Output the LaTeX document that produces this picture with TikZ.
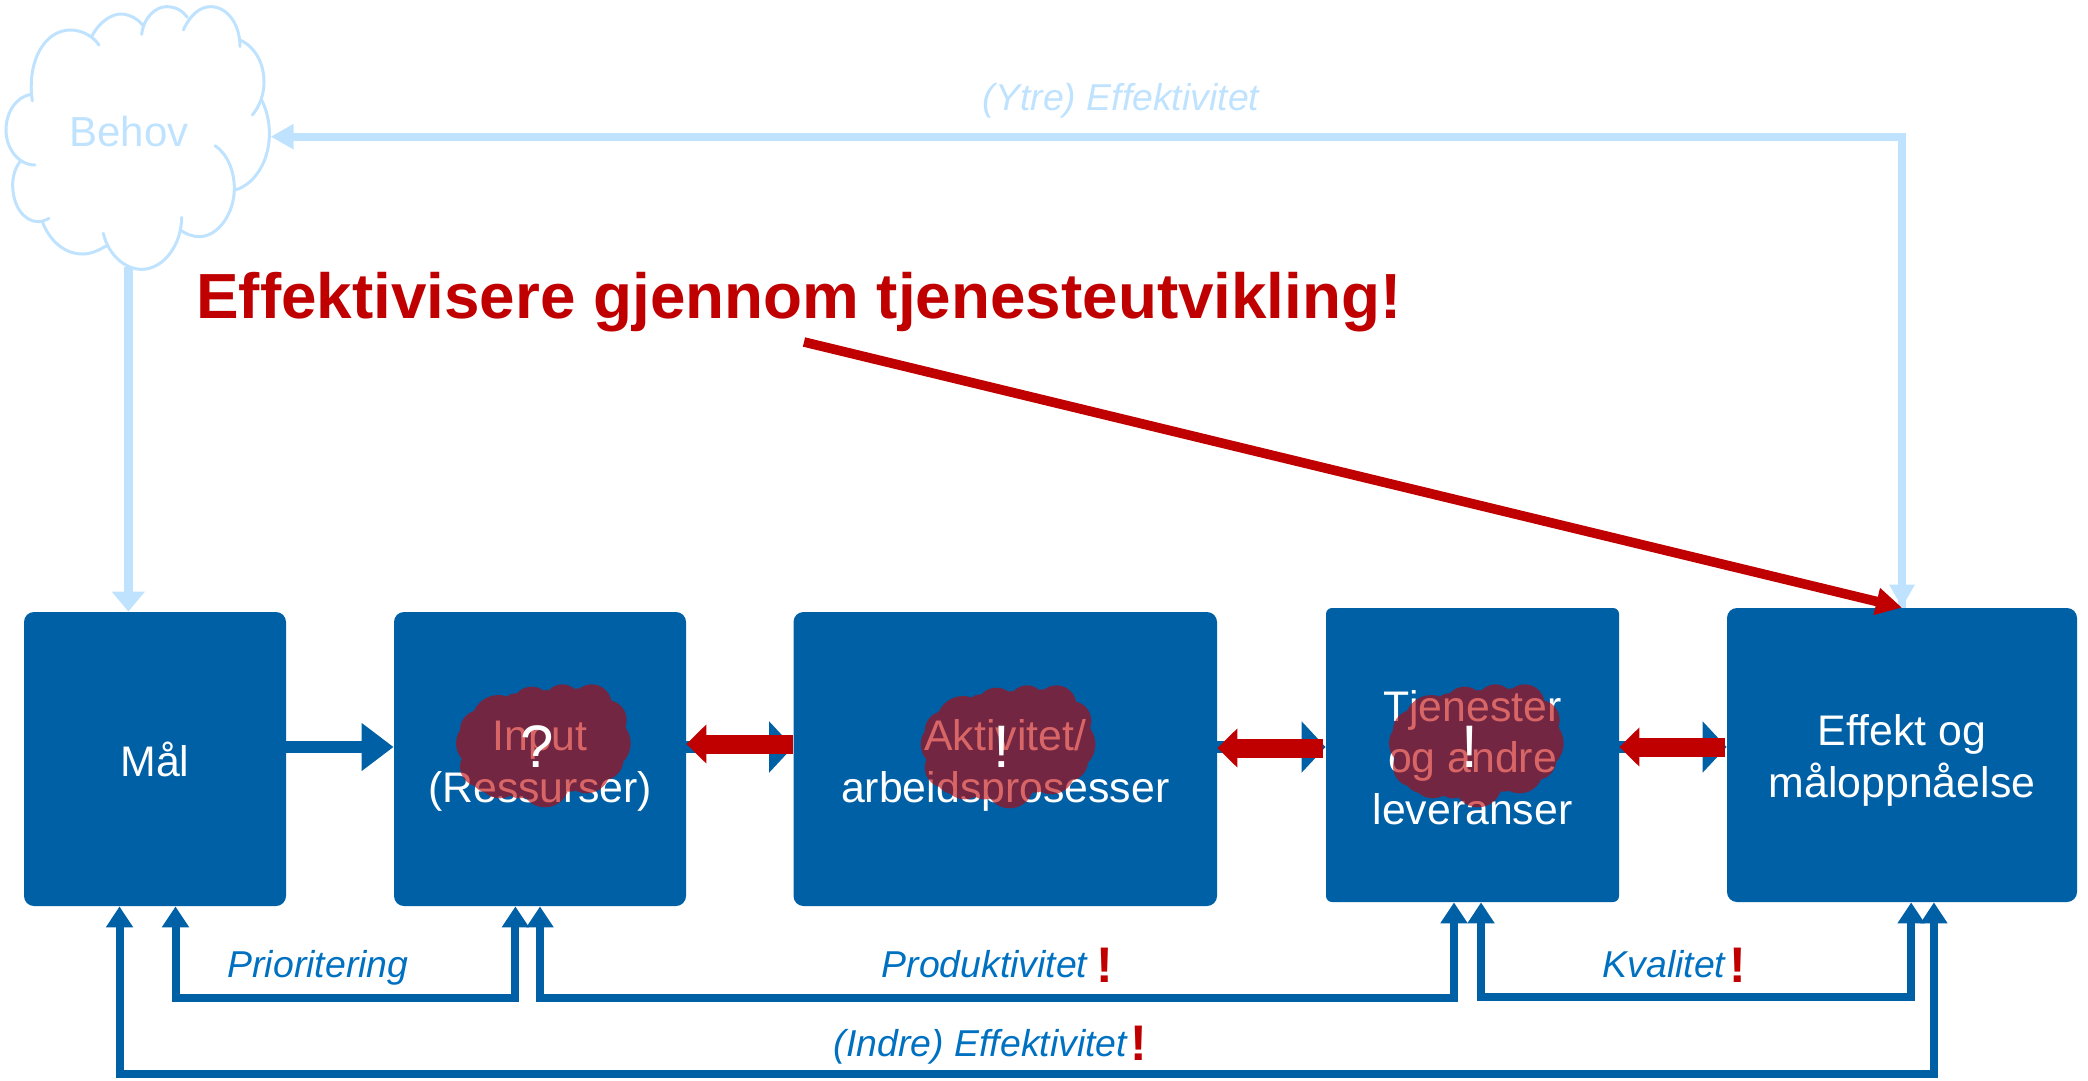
\documentclass[tikz,border=0pt]{standalone}
\usepackage{fontspec}
\setmainfont{Liberation Sans}
\usetikzlibrary{arrows.meta,calc}
\definecolor{boxblue}{HTML}{0060A6}
\definecolor{labelblue}{HTML}{0070C0}
\definecolor{lightb}{HTML}{BFE3FF}
\definecolor{dred}{HTML}{C00000}
\tikzset{
  box/.style={fill=boxblue,text=white,rounded corners=5pt,align=center,inner sep=0pt,
    font=\fontsize{21.4}{25.6}\selectfont},
  fb/.style={draw=boxblue,line width=4pt,
    {Triangle[length=10.5pt,width=13pt]}-{Triangle[length=10.5pt,width=13pt]}},
  flowb/.style={draw=boxblue,line width=6pt,-{Triangle[length=12pt,width=25pt]}},
  flowr/.style={draw=dred,line width=9.5pt,-{Triangle[length=10pt,width=19pt]}},
  lightarrow/.style={draw=lightb,line width=4pt,-{Triangle[length=11.5pt,width=12pt]}},
  cloudline/.style={draw=lightb,line width=1.5pt,line cap=round},
  lab/.style={font=\fontsize{18.7}{22}\selectfont\itshape,text=labelblue,inner sep=0pt,anchor=base},
  bang/.style={font=\fontsize{25}{28}\selectfont\bfseries,text=dred,inner sep=0pt,anchor=base},
  markq/.style={font=\fontsize{30}{32}\selectfont,text=white,inner sep=0pt,anchor=base},
  cloudfill/.style={fill=dred,opacity=.6}
}
\begin{document}
\begin{tikzpicture}[x=0.5pt,y=-0.5pt]
\useasboundingbox (0,0) rectangle (2088,1081);
% boxes
\node[box,minimum width=131pt,minimum height=147pt] (maal) at (155,759) {Mål};
\node[box,minimum width=146pt,minimum height=147pt] (input) at (540,759) {\rule{0pt}{22pt}Input\\(Ressurser)};
\node[box,minimum width=211.75pt,minimum height=147pt] (akt) at (1005.25,759) {\rule{0pt}{22pt}Aktivitet/\\arbeidsprosesser};
\node[box,rounded corners=3pt,minimum width=146.5pt,minimum height=147pt] (tjen) at (1472.5,755) {\rule{0pt}{18pt}Tjenester\\og andre\\leveranser};
\node[box,minimum width=175pt,minimum height=147pt] (eff) at (1902,755) {\rule{0pt}{21pt}Effekt og\\måloppnåelse};
% Behov cloud
\begin{scope}[x=0.16667pt,y=-0.16667pt]
\draw[cloudline] (97,303) .. controls (80,190) and (130,88) .. (215,90) .. controls (250,92) and (280,110) .. (297,135);
\draw[cloudline] (275,110) .. controls (300,60) and (340,42) .. (362,42) .. controls (390,42) and (418,60) .. (430,78);
\draw[cloudline] (425,103) .. controls (430,55) and (465,20) .. (500,20) .. controls (530,20) and (550,35) .. (562,52);
\draw[cloudline] (550,90) .. controls (570,45) and (600,20) .. (632,20) .. controls (680,20) and (720,70) .. (720,140);
\draw[cloudline] (720,120) .. controls (765,140) and (792,190) .. (792,245) .. controls (792,285) and (778,320) .. (757,345);
\draw[cloudline] (785,300) .. controls (800,330) and (810,370) .. (808,410) .. controls (805,490) and (760,555) .. (705,570);
\draw[cloudline] (645,437) .. controls (680,460) and (703,510) .. (703,565) .. controls (703,640) and (655,710) .. (597,710) .. controls (578,710) and (558,702) .. (540,690);
\draw[cloudline] (545,652) .. controls (545,735) and (490,808) .. (425,808) .. controls (375,808) and (325,765) .. (310,700);
\draw[cloudline] (320,737) .. controls (295,752) and (272,762) .. (248,762) .. controls (195,762) and (150,725) .. (127,665);
\draw[cloudline] (147,655) .. controls (138,660) and (125,665) .. (115,665) .. controls (70,665) and (38,615) .. (38,555) .. controls (38,530) and (45,505) .. (60,485);
\draw[cloudline] (105,495) .. controls (55,495) and (18,445) .. (18,390) .. controls (18,335) and (50,290) .. (93,283);
\coordinate (cloudE) at (812,410);
\coordinate (cloudS) at (385,800);
\node[font=\fontsize{21}{24}\selectfont,text=lightb,inner sep=0pt] (behov) at (387,395) {Behov};
\end{scope}
% light arrows
\draw[lightarrow,line width=4.5pt,-{Triangle[length=10pt,width=16pt]}] (cloudS) -- (cloudS |- maal.north);
\draw[lightarrow] (eff.north) |- (cloudE);
\draw[lightarrow] (cloudE -| eff.north) -- (eff.north);
\node[lab,text=lightb] (ytre) at (1121,111) {(Ytre) Effektivitet};
% title
\node[font=\fontsize{31.9}{34}\selectfont\bfseries,text=dred,inner sep=0pt] (title) at (799,302) {Effektivisere gjennom tjenesteutvikling!};
\coordinate (ts) at (804,342);
\draw[draw=dred,line width=4.8pt,-{Triangle[length=13pt,width=13pt]}] (ts) -- (eff.north);
% horizontal arrows
\draw[flowb,-{Triangle[length=16pt,width=23pt]}] (maal.east |- 0,747) -- (input.west |- 0,747);
\draw[flowb] (input.east |- 0,747) -- (akt.west |- 0,747);
\draw[flowb] (akt.east |- 0,747) -- (tjen.west |- 0,747);
\draw[flowb] (tjen.east |- 0,747) -- (eff.west |- 0,747);
\draw[flowr] (akt.west |- 0,744) -- (input.east |- 0,744);
\draw[flowr] ([xshift=-1.5pt]tjen.west |- 0,748) -- (akt.east |- 0,748);
\draw[flowr] ([xshift=-1pt]eff.west |- 0,747) -- (tjen.east |- 0,747);
% bottom feedback
\draw[fb] ($(maal.south west)!.578!(maal.south east)$) -- ++(0,91.5) -| ($(input.south west)!.416!(input.south east)$);
\draw[fb] ($(input.south west)!.5!(input.south east)$) -- ++(0,91.5) -| ($(tjen.south west)!.437!(tjen.south east)$);
\draw[fb] ($(tjen.south west)!.529!(tjen.south east)$) -- ++(0,95) -| ($(eff.south west)!.526!(eff.south east)$);
\draw[fb] ($(maal.south west)!.365!(maal.south east)$) -- ++(0,168) -| ($(eff.south west)!.591!(eff.south east)$);
% labels
\node[lab] (prio) at (318,977) {Prioritering};
\node[lab] (prod) at (984.5,977) {Produktivitet};
\node[bang] (b1) at (1105,982) {!};
\node[lab] (kval) at (1664,977) {Kvalitet};
\node[bang] (b2) at (1738,982) {!};
\node[lab] (indre) at (980.5,1056) {(Indre) Effektivitet};
\node[bang] (b3) at (1139,1060) {!};
% red clouds
\foreach \dx/\dy in {0/0,464.7/1,933/0}{
\begin{scope}[shift={(380+\dx,660+\dy)},x=0.16667pt,y=-0.16667pt]
\fill[cloudfill] (355,185) circle[radius=80] (455,140) circle[radius=60]
  (547,128) circle[radius=55] (635,133) circle[radius=60] (680,180) circle[radius=60]
  (672,250) circle[radius=80] (620,330) circle[radius=70] (495,370) circle[radius=72]
  (360,350) circle[radius=65] (298,250) circle[radius=70] (300,320) circle[radius=60]
  (490,250) circle[radius=150]
  (405,135) circle[radius=35] (500,125) circle[radius=35] (592,122) circle[radius=37]
  (660,160) circle[radius=50] (700,215) circle[radius=40] (670,300) circle[radius=60]
  (570,340) circle[radius=55] (420,360) circle[radius=55] (330,340) circle[radius=60]
  (300,210) circle[radius=60];
\end{scope}
}
\node[markq] (q1) at (537,767) {?};
\node[markq] (q2) at (1002,767) {!};
\node[markq] (q3) at (1470,767) {!};
\end{tikzpicture}
\end{document}
